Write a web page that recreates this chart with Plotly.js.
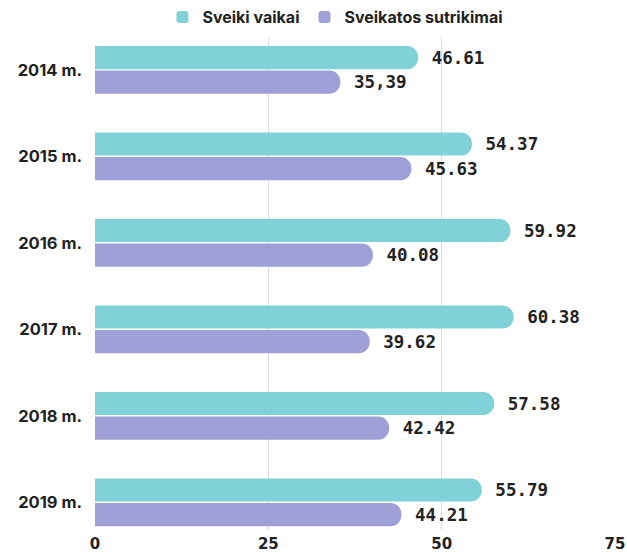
<!DOCTYPE html>
<html>
<head>
<meta charset="utf-8">
<script src="https://cdn.plot.ly/plotly-3.0.1.min.js"></script>
<style>html,body{margin:0;padding:0;background:#fff}#chart{width:627px;height:556px}</style>
</head>
<body>
<div id="chart"></div>
<script>
const years = ["2014 m.", "2015 m.", "2016 m.", "2017 m.", "2018 m.", "2019 m."];
const healthy = [46.61, 54.37, 59.92, 60.38, 57.58, 55.79];
const disorders = [35.39, 45.63, 40.08, 39.62, 42.42, 44.21];
const healthyLabels = ["46.61", "54.37", "59.92", "60.38", "57.58", "55.79"];
const disorderLabels = ["35,39", "45.63", "40.08", "39.62", "42.42", "44.21"];
const seriesNames = ["Sveiki vaikai", "Sveikatos sutrikimai"];
const xTicks = [0, 25, 50, 75];

const labelFont = {family: "DejaVu Sans Mono", size: 17.5, color: "#222", weight: 700};

const traces = [
  {type: "bar", orientation: "h", name: seriesNames[0], y: years, x: healthy,
   text: healthyLabels, texttemplate: " %{text}", textposition: "outside",
   textfont: labelFont, cliponaxis: false, hoverinfo: "none",
   marker: {color: "#80d1d8", cornerradius: 12}},
  {type: "bar", orientation: "h", name: seriesNames[1], y: years, x: disorders,
   text: disorderLabels, texttemplate: " %{text}", textposition: "outside",
   textfont: labelFont, cliponaxis: false, hoverinfo: "none",
   marker: {color: "#a0a0d8", cornerradius: 12}}
];

const layout = {
  width: 627, height: 556,
  margin: {l: 95, r: 12, t: 37, b: 26},
  paper_bgcolor: "#fff", plot_bgcolor: "#fff",
  barmode: "group", bargap: 0.43, bargroupgap: 0.06,
  showlegend: true,
  legend: {orientation: "h", x: 0.535, xref: "container", xanchor: "center", y: 1, yref: "container", yanchor: "top",
           font: {family: "Inter", size: 16, color: "#222", weight: 700}, itemclick: false},
  xaxis: {range: [0, 75], tickvals: xTicks, ticktext: xTicks.map(String),
          showgrid: true, gridcolor: "#dddddd", gridwidth: 1, zeroline: false, showline: false,
          tickfont: {family: "DejaVu Sans", size: 15, color: "#222", weight: 600}, ticklabelstandoff: 3, fixedrange: true},
  yaxis: {type: "category", range: [5.32, -0.38], showgrid: false, zeroline: false, showline: false,
          tickfont: {family: "Inter", size: 16.5, color: "#222", weight: 700}, ticklabelstandoff: 12, fixedrange: true}
};

Plotly.newPlot("chart", traces, layout, {displayModeBar: false, staticPlot: true});
</script>
</body>
</html>
